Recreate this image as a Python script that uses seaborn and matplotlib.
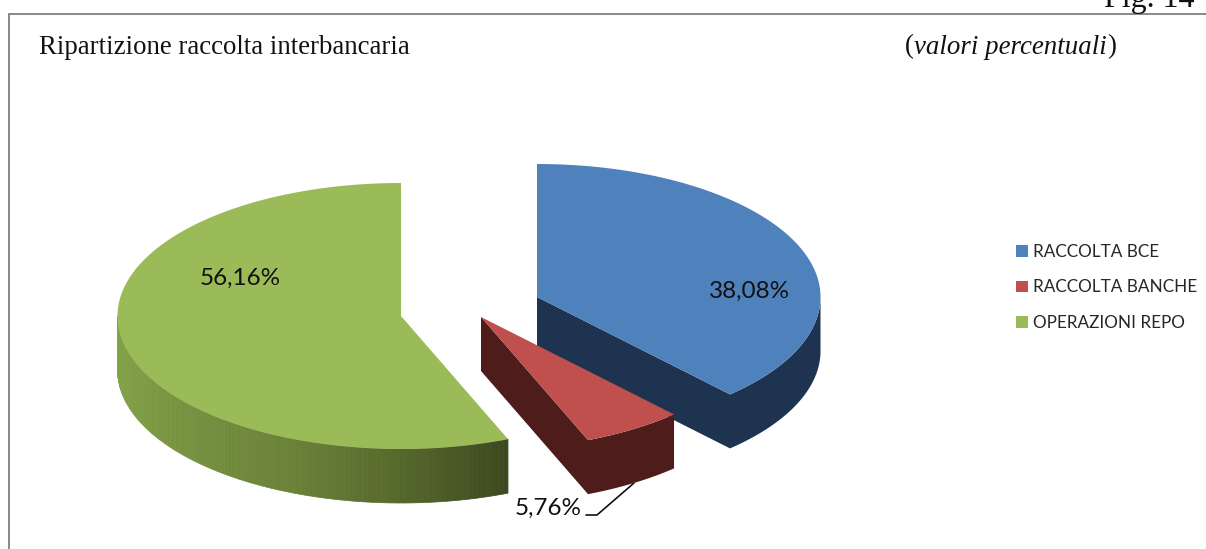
import numpy as np
import matplotlib
matplotlib.use("Agg")
import matplotlib.pyplot as plt
import seaborn as sns

# Funding shares, clockwise from twelve o'clock
categories = ["RACCOLTA BCE", "RACCOLTA BANCHE", "OPERAZIONI REPO"]
shares = [38.08, 5.76, 56.16]

top_colors = ["#4F81BD", "#C0504D", "#9BBB59"]
side_colors = ["#1E334F", "#4E1D1B", None]
green_side = sns.blend_palette(["#86A44C", "#7F9C45", "#75903F", "#6B8239", "#56692C", "#3D4A1F"], 120)

# Projection of the exploded disc on the canvas
apexes = [(537, 297), (481, 317), (401, 316)]
RX, RY, DEPTH = 283.5, 133, 54
label_spots = [(749.5, 291), (548.5, 508.5), (240.5, 278)]

sns.set_theme(style="white")
plt.rcParams["font.family"] = ["Lato", "DejaVu Sans"]
SERIF = ["Liberation Serif", "DejaVu Serif"]

fig = plt.figure(figsize=(12.06, 5.49), dpi=100)
ax = fig.add_axes([0, 0, 1, 1])
ax.set_xlim(0, 1206)
ax.set_ylim(549, 0)
ax.axis("off")


def rim(apex, deg):
    """Points on the upper rim for clockwise angles measured from the top."""
    t = np.radians(deg)
    return apex[0] + RX * np.sin(t), apex[1] - RY * np.cos(t)


def extrude(ax, xs, ys, **kw):
    ax.fill(np.r_[xs, xs[::-1]], np.r_[ys, ys[::-1] + DEPTH], **kw)


edges = np.r_[0, np.cumsum(shares)] * 3.6
for i, (name, apex) in enumerate(zip(categories, apexes)):
    a0, a1 = edges[i], edges[i + 1]
    z = 2 + i
    if name == "OPERAZIONI REPO":
        # Front wall shaded strip by strip, lighter towards the left
        angles = np.linspace(270, a0, 121)
        for k in range(120):
            xs, ys = rim(apex, angles[k:k + 2])
            extrude(ax, xs, ys, color=green_side[k], lw=0.5, zorder=z)
    else:
        front = np.linspace(max(a0, 90), a1, 60)
        xs, ys = rim(apex, front)
        extrude(ax, xs, ys, color=side_colors[i], lw=0, zorder=z)
        # Cut face running back to the apex
        ex, ey = rim(apex, a1)
        extrude(ax, np.array([apex[0], ex]), np.array([apex[1], ey]),
                color=side_colors[i], lw=0, zorder=z)
    sweep = np.linspace(a0, a1, 200)
    xs, ys = rim(apex, sweep)
    ax.fill(np.r_[apex[0], xs], np.r_[apex[1], ys], color=top_colors[i],
            lw=0, zorder=z + 0.5, label=name)

for value, (x, y) in zip(shares, label_spots):
    ax.text(x, y, f"{value:.2f}".replace(".", ",") + "%", ha="center", va="center",
            fontsize=17.5, color="#111111", zorder=10)

# Leader line for the small slice
ax.plot([634, 597, 586], [483, 515, 515], color="#111111", lw=1.2, zorder=1)

# Frame: top and left rules only
ax.plot([9, 1206], [14, 14], color="#808080", lw=1.3, zorder=0)
ax.plot([9, 9], [14, 549], color="#808080", lw=1.3, zorder=0)

ax.text(39, 47, "Ripartizione raccolta interbancaria", family=SERIF, fontsize=19.3,
        color="#111111", va="center", ha="left")
ax.text(1195, 7, "Fig. 14", family=SERIF, fontsize=23, color="#111111", va="baseline", ha="right")

paren = ax.text(905, 47, "(", family=SERIF, fontsize=19.4, color="#111111", va="center")
mid = ax.annotate("valori percentuali", xy=(1, 0), xycoords=paren, va="bottom", ha="left",
                  family=SERIF, style="italic", fontsize=19.4, color="#111111")
ax.annotate(")", xy=(1, 0), xycoords=mid, va="bottom", ha="left",
            family=SERIF, fontsize=19.4, color="#111111")

ax.legend(loc="upper left", bbox_to_anchor=(1016 / 1206, 1 - 244 / 549), frameon=False,
          fontsize=12.3, handlelength=0.7, handleheight=0.7, handletextpad=0.3,
          labelspacing=1.14, borderaxespad=0, borderpad=0)

fig.savefig("out.png", dpi=100)
